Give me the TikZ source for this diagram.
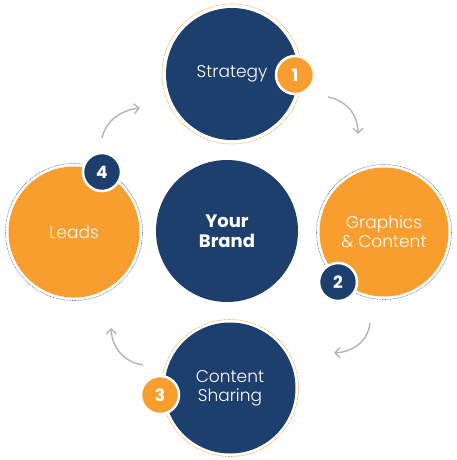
\documentclass[tikz,border=0pt]{standalone}
\usepackage{fontspec}
\setmainfont{Poppins}
\newfontfamily\lightf{Poppins Light}
\usetikzlibrary{arrows.meta}
\definecolor{navy}{HTML}{1C3F6D}
\definecolor{orng}{HTML}{F89E2E}
\definecolor{arrgray}{HTML}{B4B4B4}
\tikzset{
  big/.style={circle, minimum size=#1, inner sep=0pt, text=white, align=center, font=\lightf\fontsize{17}{19}\selectfont},
  ring/.style={draw=#1, line width=0.6pt, dash pattern=on 0.8pt off 0.8pt},
  badge/.style={circle, fill=#1, draw=white, line width=2.5pt, minimum size=38pt, inner sep=0pt, text=white, font=\bfseries\fontsize{17}{17}\selectfont},
  flow/.style={draw=arrgray, line width=1.4pt, -{Straight Barb[length=5pt,width=10pt]}}
}
\begin{document}
\begin{tikzpicture}[x=1pt,y=-1pt]
\useasboundingbox (0,0) rectangle (457,460);
% rings
\draw[ring=orng] (232,74) circle (70);
\draw[ring=navy!70!white] (384,232) circle (67.5);
\draw[ring=navy!70!white] (74,232) circle (68.5);
\draw[ring=orng] (230,388) circle (68.5);
% circles
\node[big=132pt, fill=navy] (strategy) at (232,74) {Strategy};
\node[big=129pt, fill=orng] (graphics) at (384,232) {Graphics\\\& Content};
\node[big=131pt, fill=orng] (leads) at (74,232) {Leads};
\node[big=131pt, fill=navy] (sharing) at (230,388) {Content\\Sharing};
\node[big=142pt, fill=navy, font=\bfseries\fontsize{18}{20}\selectfont] (brand) at (227,231) {Your\\Brand};
% badges
\node[badge=orng] (b1) at (295,75) {1};
\node[badge=navy] (b2) at (338,282) {2};
\node[badge=orng] (b3) at (160,395) {3};
\node[badge=navy] (b4) at (102,172) {4};
% arrows
\coordinate (a1s) at (328,97); \coordinate (a1e) at (358,134);
\coordinate (a2s) at (370,323); \coordinate (a2e) at (334,353);
\coordinate (a3s) at (143,365); \coordinate (a3e) at (111,328);
\coordinate (a4s) at (102,138); \coordinate (a4e) at (140,108);
\draw[flow] (a1s) .. controls (348,101) and (358,116) .. (a1e);
\draw[flow] (a2s) .. controls (368,342) and (352,352) .. (a2e);
\draw[flow] (a3s) .. controls (124,362) and (112,348) .. (a3e);
\draw[flow] (a4s) .. controls (106,120) and (122,110) .. (a4e);
\end{tikzpicture}
\end{document}
